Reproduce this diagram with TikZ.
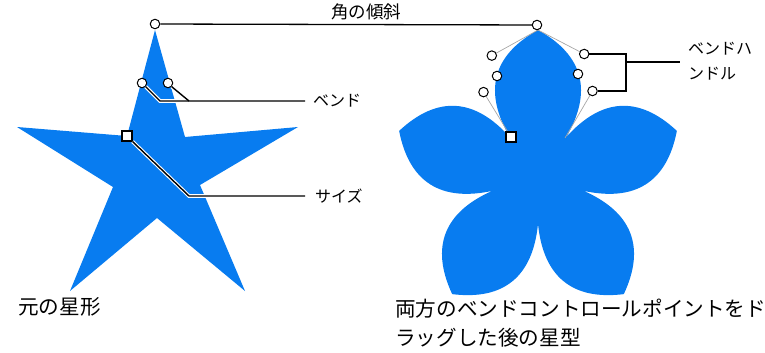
\documentclass[tikz,border=0pt]{standalone}
\usepackage{fontspec}
\setmainfont{Noto Sans CJK JP}
\definecolor{starblue}{RGB}{8,124,240}
\tikzset{
  handle/.style={circle, draw=black, fill=white, line width=1pt, minimum size=9.5pt, inner sep=0pt},
  sqhandle/.style={rectangle, draw=black, fill=white, line width=1.2pt, minimum size=10pt, inner sep=0pt},
  lead/.style={line width=1.4pt, black},
  leadhalo/.style={line width=3.6pt, white, xshift=-0.7pt, yshift=-0.7pt},
  guide/.style={gray!70, line width=0.7pt},
  plain/.style={line width=1.3pt, black},
  lbl/.style={font=\fontsize{16}{25}\selectfont, inner sep=0pt, anchor=west, align=left},
  biglbl/.style={font=\fontsize{20.6}{29}\selectfont, inner sep=0pt, anchor=west, align=left},
}
\begin{document}
\begin{tikzpicture}[x=1pt, y=-1pt]
\useasboundingbox (0,0) rectangle (765,353);

% ---------- original star ----------
\fill[starblue] (155,30) -- (185,137) -- (298,127) -- (200,185) -- (245,291)
  -- (157,218) -- (70,291) -- (113,187) -- (17,127) -- (127,136) -- cycle;

% ---------- bent star (flower) ----------
\begin{scope}[shift={(538,176)}, yscale=-1]
\fill[starblue] (54:48)
  .. controls (57:100) and (69:129) .. (90:146)
  .. controls (111:129) and (123:100) .. (126:48)
  .. controls (129:100) and (141:129) .. (162:146)
  .. controls (183:129) and (195:100) .. (198:48)
  .. controls (201:100) and (213:129) .. (234:146)
  .. controls (255:129) and (267:100) .. (270:48)
  .. controls (273:100) and (285:129) .. (306:146)
  .. controls (327:129) and (339:100) .. (342:48)
  .. controls (345:100) and (357:129) .. (18:146)
  .. controls (39:129) and (51:100) .. (54:48) -- cycle;
\end{scope}

% ---------- coordinates ----------
\coordinate (apex) at (538,30);
\coordinate (innerR) at (565,138);
\coordinate (cBend) at (160,101);
\coordinate (cBend2) at (189,101);
\coordinate (cSize) at (189,196);
\coordinate (bt) at (626,54);
\coordinate (bb) at (626,91);
\coordinate (bm) at (626,62);
\coordinate (bmEnd) at (680,62);

% ---------- labels ----------
\node[lbl, anchor=center, font=\fontsize{17.5}{20}\selectfont] (lAngle) at (366,12) {角の傾斜};
\node[lbl] (lBend) at (313,101) {ベンド};
\node[lbl] (lSize) at (315,196) {サイズ};
\node[lbl, anchor=north west] (lBH) at (688,42) {ベンドハ\\ンドル};
\node[biglbl] (lOrig) at (18,307) {元の星形};
\node[biglbl, anchor=north west] (lNew) at (395,299) {両方のベンドコントロールポイントをド\\ラッグした後の星型};

% ---------- flower guide lines ----------
\coordinate (hL1c) at (491.8,55.6);
\coordinate (hL2c) at (483.5,92.1);
\coordinate (hR1c) at (584.2,54);
\coordinate (hR2c) at (592.5,91);
\coordinate (sqc) at (511,137);
\draw[guide] (apex) -- (hL1c);
\draw[guide] (hL2c) -- (sqc);
\draw[guide] (apex) -- (hR1c);
\draw[guide] (hR2c) -- (innerR);

% ---------- handles ----------
\node[handle] (topL) at (155,24) {};
\node[handle] (topR) at (537,25) {};
\node[handle] (bL) at (142,83) {};
\node[handle] (bR) at (168,83) {};
\node[sqhandle] (sz) at (127,136) {};
\node[handle] (hL1) at (hL1c) {};
\node[handle] (hLm) at (497,76) {};
\node[handle] (hL2) at (hL2c) {};
\node[handle] (hR1) at (hR1c) {};
\node[handle] (hRm) at (578,74) {};
\node[handle] (hR2) at (hR2c) {};
\node[sqhandle] (sq) at (sqc) {};

% ---------- leader lines with white halo ----------
\draw[leadhalo] (bL.-45) -- (cBend) -- ([xshift=-8pt]lBend.west);
\draw[leadhalo] (bR.-45) -- (cBend2);
\draw[leadhalo] (sz.-45) -- (cSize) -- ([xshift=-10pt]lSize.west);
\draw[lead] (bL.-45) -- (cBend) -- ([xshift=-8pt]lBend.west);
\draw[lead] (bR.-45) -- (cBend2);
\draw[lead] (sz.-45) -- (cSize) -- ([xshift=-10pt]lSize.west);

% ---------- angle line ----------
\draw[plain] (topL) -- (topR);

% ---------- bracket ----------
\draw[plain] (hR1) -- (bt) -- (bb) -- (hR2);
\draw[plain] (bm) -- (bmEnd);
\end{tikzpicture}
\end{document}
